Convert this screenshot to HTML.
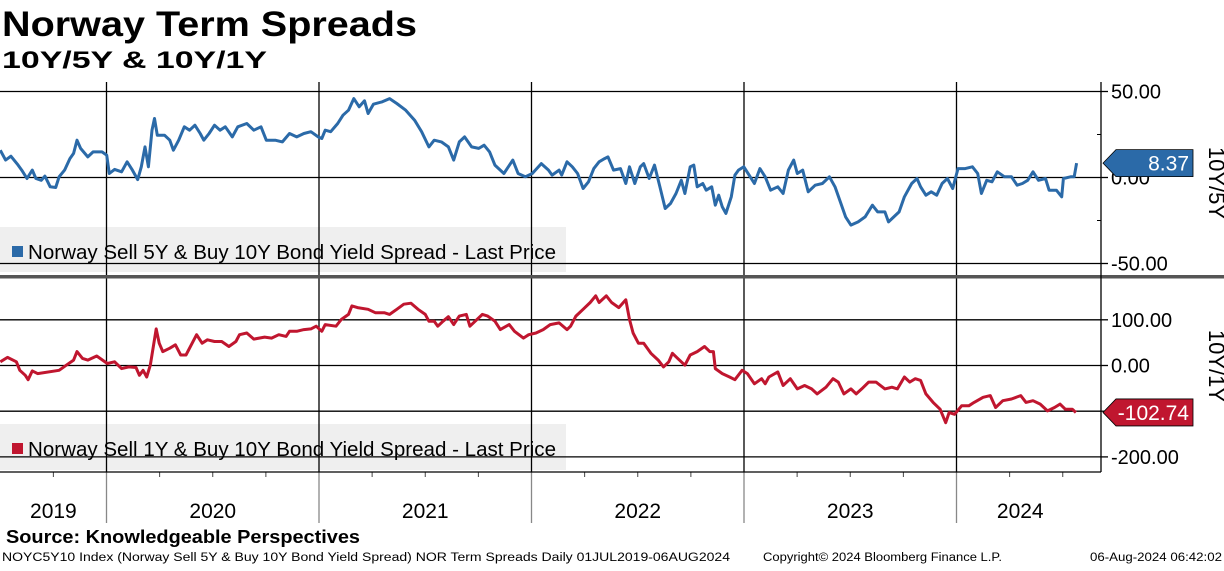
<!DOCTYPE html>
<html><head><meta charset="utf-8"><style>
html,body{margin:0;padding:0;background:#fff;}
body{width:1224px;height:566px;overflow:hidden;font-family:"Liberation Sans",sans-serif;}
svg text{font-family:"Liberation Sans","DejaVu Sans",sans-serif;}
</style></head><body>
<svg id="c" width="1224" height="566" viewBox="0 0 1224 566" xmlns="http://www.w3.org/2000/svg">
<text x="2" y="36" font-size="35" font-weight="bold" fill="#000" textLength="415" lengthAdjust="spacingAndGlyphs">Norway Term Spreads</text>
<text x="2" y="68" font-size="24" font-weight="bold" fill="#000" textLength="265" lengthAdjust="spacingAndGlyphs">10Y/5Y &amp; 10Y/1Y</text>
<g id="grid"></g>
<g id="series"></g>
<g id="axes"></g>
<text x="6" y="543" font-size="18" font-weight="bold" fill="#000" textLength="354" lengthAdjust="spacingAndGlyphs">Source: Knowledgeable Perspectives</text>
<text x="2" y="561" font-size="11.5" fill="#000" textLength="728" lengthAdjust="spacingAndGlyphs">NOYC5Y10 Index (Norway Sell 5Y &amp; Buy 10Y Bond Yield Spread) NOR Term Spreads  Daily 01JUL2019-06AUG2024</text>
<text x="763" y="561" font-size="11.5" fill="#000" textLength="239" lengthAdjust="spacingAndGlyphs">Copyright© 2024 Bloomberg Finance L.P.</text>
<text x="1090" y="561" font-size="11.5" fill="#000" textLength="132" lengthAdjust="spacingAndGlyphs">06-Aug-2024 06:42:02</text>
</svg>
<script>
const dates5=[2019.500,2019.525,2019.550,2019.584,2019.601,2019.626,2019.651,2019.668,2019.693,2019.710,2019.735,2019.761,2019.777,2019.803,2019.828,2019.845,2019.861,2019.878,2019.912,2019.937,2019.979,2020.001,2020.013,2020.038,2020.071,2020.097,2020.122,2020.147,2020.164,2020.181,2020.197,2020.214,2020.226,2020.239,2020.273,2020.298,2020.315,2020.340,2020.366,2020.391,2020.416,2020.441,2020.458,2020.483,2020.508,2020.534,2020.559,2020.592,2020.618,2020.660,2020.693,2020.727,2020.752,2020.794,2020.828,2020.861,2020.895,2020.929,2020.962,2020.996,2021.013,2021.029,2021.055,2021.088,2021.113,2021.139,2021.164,2021.189,2021.214,2021.231,2021.256,2021.298,2021.332,2021.366,2021.408,2021.450,2021.483,2021.517,2021.542,2021.576,2021.609,2021.634,2021.660,2021.685,2021.718,2021.752,2021.777,2021.803,2021.828,2021.870,2021.912,2021.937,2021.971,2022.004,2022.046,2022.080,2022.097,2022.130,2022.142,2022.167,2022.192,2022.217,2022.243,2022.268,2022.293,2022.318,2022.344,2022.360,2022.386,2022.419,2022.444,2022.461,2022.486,2022.512,2022.528,2022.554,2022.579,2022.604,2022.629,2022.654,2022.680,2022.705,2022.722,2022.747,2022.764,2022.780,2022.806,2022.822,2022.848,2022.865,2022.881,2022.898,2022.915,2022.940,2022.957,2022.974,2022.999,2023.024,2023.049,2023.075,2023.100,2023.125,2023.159,2023.184,2023.209,2023.234,2023.251,2023.276,2023.302,2023.335,2023.369,2023.402,2023.428,2023.453,2023.478,2023.503,2023.537,2023.570,2023.604,2023.629,2023.663,2023.680,2023.705,2023.730,2023.755,2023.789,2023.814,2023.831,2023.856,2023.881,2023.907,2023.932,2023.957,2023.982,2024.007,2024.041,2024.075,2024.100,2024.117,2024.142,2024.167,2024.192,2024.226,2024.259,2024.285,2024.310,2024.335,2024.360,2024.386,2024.419,2024.436,2024.470,2024.495,2024.503,2024.537,2024.554,2024.565];
const values5=[15.9,10.1,12.4,7.2,4.3,-0.6,4.3,-0.6,-1.6,0.8,-5.4,-5.8,0.4,4.3,11.0,14.0,21.7,16.9,12.0,14.9,14.9,13.0,2.3,4.7,3.3,9.1,4.3,-1.2,6.2,17.8,6.2,27.5,34.3,24.6,24.6,21.7,15.9,21.7,29.5,27.5,30.4,25.6,21.7,25.6,30.4,27.5,29.5,23.6,29.5,31.4,27.5,29.5,21.7,21.7,20.7,25.6,23.6,25.6,26.6,23.6,22.7,27.5,26.6,31.4,36.2,39.1,45.9,41.1,44.6,37.2,42.6,44.0,45.9,43.0,39.1,33.3,26.6,17.8,21.7,20.7,17.8,10.1,20.7,23.6,17.8,16.9,18.8,14.9,7.2,2.3,10.1,2.3,0.4,2.3,8.1,4.3,1.4,4.3,1.4,9.1,6.2,2.3,-6.4,-2.5,5.2,9.1,11.0,12.0,4.3,5.2,-3.5,6.2,-3.5,6.2,8.1,-0.6,7.2,-5.4,-18.0,-15.1,-9.3,-1.6,-9.3,6.2,7.2,-5.4,-3.5,-7.4,-5.4,-16.1,-10.3,-17.1,-20.9,-11.2,1.4,4.3,6.2,1.4,-3.5,5.2,0.4,-7.4,-5.4,-9.3,4.3,10.1,2.3,4.3,-8.3,-4.5,-3.5,0.4,-5.4,-14.1,-22.9,-27.7,-25.8,-22.9,-16.1,-20.0,-20.0,-25.8,-22.9,-20.0,-11.2,-3.5,-0.6,-5.4,-10.3,-8.3,-10.3,-3.5,-0.6,-6.4,5.2,5.2,6.2,2.3,-9.3,-1.6,-2.5,3.3,0.4,0.4,-4.5,-3.5,-1.6,3.3,-1.6,-0.6,-7.4,-7.4,-11.2,-0.6,0.4,0.4,8.37];
const dates1=[2019.500,2019.534,2019.576,2019.592,2019.618,2019.631,2019.651,2019.676,2019.777,2019.811,2019.845,2019.861,2019.887,2019.912,2019.954,2020.004,2020.038,2020.071,2020.105,2020.139,2020.155,2020.172,2020.189,2020.206,2020.234,2020.248,2020.265,2020.298,2020.324,2020.349,2020.374,2020.399,2020.424,2020.450,2020.475,2020.508,2020.542,2020.576,2020.609,2020.626,2020.660,2020.693,2020.744,2020.777,2020.811,2020.845,2020.861,2020.895,2020.929,2020.962,2020.987,2021.013,2021.029,2021.080,2021.105,2021.139,2021.155,2021.181,2021.231,2021.265,2021.307,2021.332,2021.366,2021.399,2021.433,2021.466,2021.500,2021.517,2021.542,2021.559,2021.584,2021.609,2021.634,2021.660,2021.693,2021.710,2021.735,2021.769,2021.794,2021.828,2021.853,2021.895,2021.920,2021.962,2021.987,2022.021,2022.055,2022.088,2022.130,2022.167,2022.184,2022.209,2022.243,2022.276,2022.302,2022.318,2022.352,2022.377,2022.411,2022.444,2022.461,2022.478,2022.503,2022.528,2022.562,2022.596,2022.621,2022.646,2022.663,2022.688,2022.722,2022.747,2022.780,2022.814,2022.839,2022.856,2022.865,2022.898,2022.932,2022.957,2022.991,2023.016,2023.049,2023.083,2023.100,2023.117,2023.159,2023.184,2023.218,2023.251,2023.285,2023.318,2023.344,2023.386,2023.419,2023.444,2023.470,2023.503,2023.528,2023.554,2023.587,2023.621,2023.663,2023.696,2023.722,2023.755,2023.780,2023.806,2023.831,2023.856,2023.890,2023.923,2023.949,2023.965,2023.991,2024.024,2024.058,2024.083,2024.125,2024.159,2024.184,2024.218,2024.259,2024.302,2024.327,2024.360,2024.394,2024.428,2024.461,2024.487,2024.512,2024.545,2024.562];
const values1=[8.1,17.8,8.1,-10.4,-21.5,-31.1,-11.9,-17.8,-10.4,0.7,11.9,30.4,15.6,11.9,20.7,4.4,8.1,-6.7,-3.0,-4.4,-21.5,-10.4,-25.2,0.7,80.0,48.9,30.4,37.8,45.2,23.0,23.0,45.2,67.4,48.9,56.3,52.6,52.6,41.5,52.6,67.4,71.1,57.8,62.2,60.0,67.4,63.7,74.8,74.8,78.5,80.0,85.9,74.8,89.6,85.9,100.7,111.9,130.4,126.7,123.0,115.6,115.6,111.9,123.0,134.1,136.3,123.0,111.9,97.0,97.0,85.9,97.0,106.7,89.6,108.1,111.9,85.9,97.0,111.9,108.1,97.0,78.5,89.6,74.8,60.0,67.4,71.1,78.5,89.6,93.3,78.5,85.9,108.1,123.0,137.8,152.6,137.8,152.6,137.8,126.7,143.7,100.7,71.1,48.9,48.9,26.7,11.9,-3.0,8.1,26.7,15.6,0.7,23.0,30.4,41.5,30.4,30.4,-6.7,-17.8,-25.2,-31.1,-10.4,-17.8,-40.0,-28.9,-40.0,-25.2,-14.1,-43.7,-28.9,-51.1,-43.7,-51.1,-62.2,-47.4,-28.9,-36.3,-62.2,-51.1,-62.2,-51.1,-36.3,-36.3,-51.1,-47.4,-51.1,-25.2,-36.3,-28.9,-32.6,-62.2,-80.7,-95.6,-125.2,-103.0,-106.7,-88.1,-88.1,-80.7,-69.6,-65.9,-91.9,-77.0,-73.3,-65.9,-80.7,-77.0,-84.4,-99.3,-91.9,-84.4,-95.6,-95.6,-102.74];
const yearLabels=["2019","2020","2021","2022","2023","2024"];
const yearStarts=[2019.5,2020,2021,2022,2023,2024,2024.6];
const ticks5=[50,0,-50];
const ticks1=[100,0,-100,-200];
const tickLabels1=["100.00","0.00","","-200.00"];

const NS="http://www.w3.org/2000/svg";
const PLOT_R=1101;
function xS(t){return 106.5+(t-2020)*212.5;}
function yTop(v){return 177.5-v*1.72;}
function yBot(v){return 365.5-v*0.457;}
function mk(tag,attrs,parent){const e=document.createElementNS(NS,tag);for(const k in attrs)e.setAttribute(k,attrs[k]);parent.appendChild(e);return e;}
const grid=document.getElementById('grid'),series=document.getElementById('series'),axes=document.getElementById('axes');

let lb=mk('rect',{x:0,y:227,width:566,height:45,fill:'#ececec','fill-opacity':0.85},grid);


lb=mk('rect',{x:0,y:424,width:566,height:46,fill:'#ececec','fill-opacity':0.85},grid);



ticks5.forEach(v=>{const l=mk('line',{x1:0,x2:PLOT_R,y1:yTop(v),y2:yTop(v),stroke:'#000','stroke-width':1.3},grid);

});
ticks1.forEach(v=>{const l=mk('line',{x1:0,x2:PLOT_R,y1:yBot(v),y2:yBot(v),stroke:'#000','stroke-width':1.3},grid);

});
for(let i=1;i<yearStarts.length-1;i++){const x=xS(yearStarts[i]);
const l=mk('line',{x1:x,x2:x,y1:82,y2:472,stroke:'#000','stroke-width':1.3},grid);


const t=mk('line',{x1:x,x2:x,y1:472,y2:523,stroke:'#888','stroke-width':1.3},grid);

}
for(let q=2019.75;q<2024.7;q+=0.25){if(Math.abs(q-Math.round(q))<0.01)continue;const x=xS(q);
const t=mk('line',{x1:x,x2:x,y1:472,y2:477,stroke:'#444','stroke-width':1},grid);

}
yearLabels.forEach((lab,i)=>{const a=Math.max(xS(yearStarts[i]),0),b=Math.min(xS(yearStarts[i+1]),PLOT_R);
const t=mk('text',{x:(a+b)/2,y:518,'font-size':21,'text-anchor':'middle',fill:'#000'},axes);t.textContent=lab;

});

function path(d,v,yf){return d.map((t,i)=>(i?'L':'M')+xS(t).toFixed(1)+','+yf(v[i]).toFixed(1)).join(' ');}
let p=mk('path',{d:path(dates5,values5,yTop),fill:'none',stroke:'#2b6aa8','stroke-width':3,'stroke-linejoin':'round'},series);


p=mk('path',{d:path(dates1,values1,yBot),fill:'none',stroke:'#c0162f','stroke-width':3,'stroke-linejoin':'round'},series);



function legend(y,color,txt,name){const r=mk('rect',{x:12,y:y-13,width:11,height:11,fill:color},axes);


const t=mk('text',{x:28,y:y,'font-size':20,fill:'#000',textLength:528,lengthAdjust:'spacingAndGlyphs'},axes);t.textContent=txt;

}
legend(259,'#2b6aa8','Norway Sell 5Y & Buy 10Y Bond Yield Spread - Last Price','legend-entry-5y');
legend(456,'#c0162f','Norway Sell 1Y & Buy 10Y Bond Yield Spread - Last Price','legend-entry-1y');

let s=mk('rect',{x:0,y:275,width:1224,height:3.5,fill:'#555'},axes);


let ax=mk('line',{x1:0,x2:PLOT_R,y1:472,y2:472,stroke:'#000','stroke-width':1.3},axes);


ax=mk('line',{x1:PLOT_R,x2:PLOT_R,y1:82,y2:472,stroke:'#000','stroke-width':1.3},axes);


function ylabels(ticks,labels,yf,name){ticks.forEach((v,i)=>{const y=yf(v);
const tk=mk('line',{x1:PLOT_R,x2:PLOT_R+7,y1:y,y2:y,stroke:'#000','stroke-width':1.3},axes);


if(!labels[i])return;
const t=mk('text',{x:PLOT_R+10,y:y+7,'font-size':20,fill:'#000'},axes);t.textContent=labels[i];

});}
ylabels(ticks5,ticks5.map(v=>v.toFixed(2)),yTop,'y-top');
ylabels(ticks1,tickLabels1,yBot,'y-bottom');
[25,-25].forEach(v=>{const y=yTop(v);const m=mk('line',{x1:PLOT_R-4,x2:PLOT_R,y1:y,y2:y,stroke:'#000'},axes);

});

function tag(v,yf,color,name){const y=yf(v);const h=27,x0=PLOT_R+2,w=90;
const pg=mk('path',{d:`M${x0},${y} L${x0+13},${y-h/2} L${x0+w},${y-h/2} L${x0+w},${y+h/2} L${x0+13},${y+h/2} Z`,fill:color,stroke:'#000','stroke-width':0.8},axes);


const t=mk('text',{x:x0+w-4,y:y+7.5,'font-size':21,fill:'#fff','text-anchor':'end'},axes);t.textContent=v.toFixed(2);

}
tag(values5[values5.length-1],yTop,'#2b6aa8','last-value-tag-5y');
tag(values1[values1.length-1],yBot,'#c0162f','last-value-tag-1y');

function side(txt,y,name){const t=mk('text',{x:1209,y:y,'font-size':22,fill:'#000','text-anchor':'middle',transform:`rotate(90 1209 ${y})`},axes);t.textContent=txt;

}
side('10Y/5Y',183,'y-axis-title-top');
side('10Y/1Y',366,'y-axis-title-bottom');
</script>
</body></html>
